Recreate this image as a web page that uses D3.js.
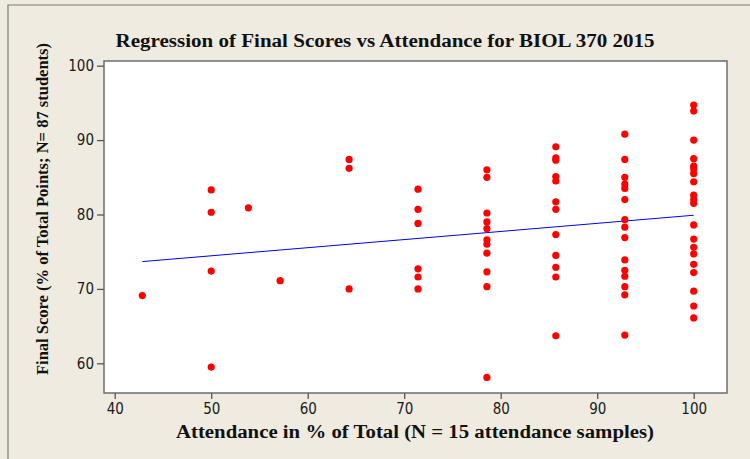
<!DOCTYPE html>
<html>
<head>
<meta charset="utf-8">
<script src="https://cdn.jsdelivr.net/npm/d3@7"></script>
<style>
  html, body { margin: 0; padding: 0; background: #efebe1; }
  svg { display: block; }
</style>
</head>
<body>
<svg id="chart" width="750" height="459"></svg>
<script>
// Attendance levels (% of total sessions) and the final scores recorded at each level
const attendanceLevels = [42.86, 50, 53.85, 57.14, 64.29, 71.43, 78.57, 85.71, 92.86, 100];
const scoresByLevel = [
  [69.1],
  [83.3, 80.3, 72.4, 59.5],
  [80.9],
  [71.1],
  [87.4, 86.2, 70.0],
  [83.4, 80.7, 78.8, 72.7, 71.6, 70.0],
  [86.0, 85.0, 80.2, 79.0, 78.1, 76.6, 76.0, 74.8, 72.3, 70.3, 58.1],
  [89.1, 87.6, 87.3, 85.1, 84.5, 81.7, 80.7, 77.3, 74.5, 72.9, 71.6, 63.7],
  [90.8, 87.4, 85.0, 84.1, 83.5, 82.0, 79.3, 78.3, 76.9, 73.9, 72.5, 71.7, 70.3, 69.2, 63.8],
  [94.7, 93.9, 90.0, 87.5, 86.5, 86.1, 85.5, 84.4, 82.6, 82.0, 81.5, 78.6, 76.7, 75.6, 74.7, 73.3, 72.2, 69.7, 67.7, 66.1]
];

// Fitted regression line: score = intercept + slope * attendance
const fitIntercept = 69.0;
const fitSlope = 0.109;

const xTicks = [40, 50, 60, 70, 80, 90, 100];
const yTicks = [60, 70, 80, 90, 100];

const titleText = "Regression of Final Scores vs Attendance for BIOL 370 2015";
const xLabel = "Attendance in % of Total (N = 15 attendance samples)";
const yLabel = "Final Score (% of Total Points; N= 87 students)";

const points = [];
attendanceLevels.forEach((a, i) => scoresByLevel[i].forEach(s => points.push({ a, s })));

const svg = d3.select("#chart");
const plot = { left: 104, right: 727, top: 61, bottom: 393 };

const x = d3.scaleLinear().domain([38.89, 103.45]).range([plot.left, plot.right]);
const y = d3.scaleLinear().domain([56.01, 100.63]).range([plot.bottom, plot.top]);

// page background and outer frame
svg.append("rect").attr("width", 750).attr("height", 459).attr("fill", "#efebe1");
svg.append("path")
  .attr("d", "M8,459 L8,5 L750,5")
  .attr("fill", "none").attr("stroke", "#7a7a7a").attr("stroke-width", 1.2);

// plot area
svg.append("rect")
  .attr("x", plot.left).attr("y", plot.top)
  .attr("width", plot.right - plot.left).attr("height", plot.bottom - plot.top)
  .attr("fill", "#ffffff").attr("stroke", "#6c6c6c").attr("stroke-width", 1.5);

// axes
const xAxis = d3.axisBottom(x).tickValues(xTicks).tickSize(6).tickPadding(4).tickSizeOuter(0);
const yAxis = d3.axisLeft(y).tickValues(yTicks).tickSize(7).tickPadding(3).tickSizeOuter(0);

const gx = svg.append("g").attr("transform", `translate(0,${plot.bottom})`).call(xAxis);
const gy = svg.append("g").attr("transform", `translate(${plot.left},0)`).call(yAxis);
[gx, gy].forEach(g => {
  g.select(".domain").remove();
  g.selectAll(".tick line").attr("stroke", "#555").attr("stroke-width", 1.3);
  g.selectAll(".tick text")
    .attr("fill", "#1a1a1a")
    .style("font-family", "'DejaVu Sans Condensed', 'DejaVu Sans', Verdana, sans-serif")
    .style("font-size", "15px");
});

// regression line
const fitLine = d3.line().x(d => x(d)).y(d => y(fitIntercept + fitSlope * d));
svg.append("path")
  .datum([d3.min(attendanceLevels), d3.max(attendanceLevels)])
  .attr("d", fitLine)
  .attr("fill", "none").attr("stroke", "#0000ff").attr("stroke-width", 1);

// observations
svg.append("g").selectAll("circle")
  .data(points)
  .join("circle")
  .attr("cx", d => x(d.a))
  .attr("cy", d => y(d.s))
  .attr("r", 3.6)
  .attr("fill", "#ff0000");

// titles
const serif = "'Liberation Serif', 'Times New Roman', serif";
svg.append("text")
  .attr("x", 385).attr("y", 47)
  .attr("text-anchor", "middle")
  .attr("textLength", 539).attr("lengthAdjust", "spacingAndGlyphs")
  .style("font-family", serif).style("font-weight", "bold").style("font-size", "18px")
  .attr("fill", "#111").text(titleText);

svg.append("text")
  .attr("x", 415).attr("y", 438)
  .attr("text-anchor", "middle")
  .attr("textLength", 478).attr("lengthAdjust", "spacingAndGlyphs")
  .style("font-family", serif).style("font-weight", "bold").style("font-size", "18px")
  .attr("fill", "#111").text(xLabel);

svg.append("text")
  .attr("transform", "translate(48,209) rotate(-90)")
  .attr("text-anchor", "middle")
  .attr("textLength", 332).attr("lengthAdjust", "spacingAndGlyphs")
  .style("font-family", serif).style("font-weight", "bold").style("font-size", "17px")
  .attr("fill", "#111").text(yLabel);
</script>
</body>
</html>
